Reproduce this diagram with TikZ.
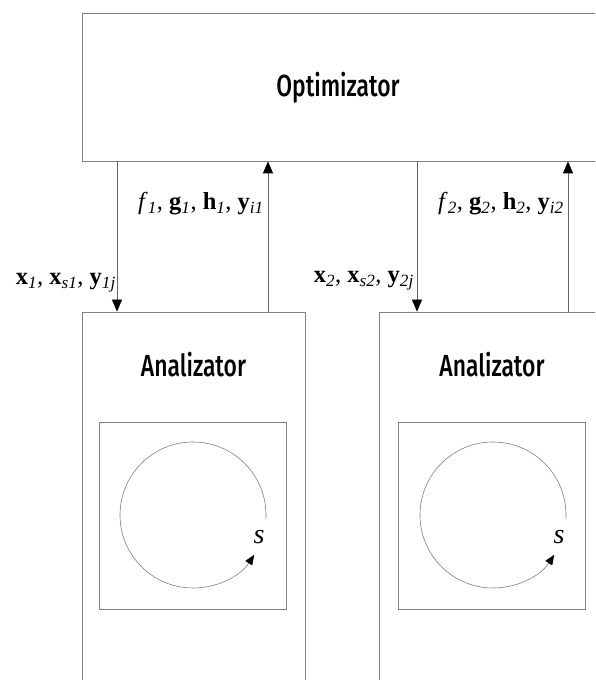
\documentclass[tikz,border=0pt]{standalone}
\usepackage{fontspec}
\setmainfont{Liberation Serif}
\newfontfamily\hd{Fira Sans}[UprightFont=* Medium]
\usetikzlibrary{arrows.meta}
\begin{document}
\begin{tikzpicture}[x=1pt,y=1pt]
\tikzset{
 boxst/.style={draw=black!50, line width=0.7pt, inner sep=0pt},
 arr/.style={draw=black!60, line width=0.7pt, -{Triangle[length=12pt,width=10pt,black]}},
 ttl/.style={font=\hd\fontsize{30.5}{36}\selectfont, inner sep=0pt},
 lbl/.style={font=\fontsize{24.5}{28}\selectfont, inner sep=0pt, anchor=base east},
 cyc/.style={draw=black!50, line width=0.6pt, -{Triangle[length=10pt,width=8pt,black]}},
 sl/.style={font=\itshape\fontsize{28}{32}\selectfont, inner sep=0pt},
}
\clip (0,0) rectangle (595,680);
\fill[white] (0,0) rectangle (595,680);
% optimizer
\node[boxst, minimum width=520pt, minimum height=148pt] (opt) at (342,593) {};
\node[ttl] (optt) at (338,592) {\scalebox{0.75}[1]{Optimizator}};
% analyzers
\node[boxst, minimum width=223pt, minimum height=408pt] (an1) at (193.5,164) {};
\node[boxst, minimum width=223pt, minimum height=408pt] (an2) at (490.5,164) {};
\node[ttl] (an1t) at (193.5,315) {\scalebox{0.75}[1]{Analizator}};
\node[ttl] (an2t) at (492,315) {\scalebox{0.75}[1]{Analizator}};
% inner squares
\node[boxst, minimum size=187pt] (in1) at (192.5,164) {};
\node[boxst, minimum size=187pt] (in2) at (491.5,164) {};
\coordinate (c1) at (193,165);
\coordinate (c2) at (493,165);
\draw[cyc] ([shift={(-3:73)}]c1) arc[start angle=-3, end angle=327, radius=73];
\draw[cyc] ([shift={(-3:73)}]c2) arc[start angle=-3, end angle=327, radius=73];
\node[sl] (s1) at (259,143) {s};
\node[sl] (s2) at (559,143) {s};
% connectors
\coordinate (d1) at (117,0);
\coordinate (u1) at (268,0);
\coordinate (d2) at (417,0);
\coordinate (u2) at (568,0);
\draw[arr] (opt.south -| d1) -- (an1.north -| d1);
\draw[arr] (an1.north -| u1) -- (opt.south -| u1);
\draw[arr] (opt.south -| d2) -- (an2.north -| d2);
\draw[arr] (an2.north -| u2) -- (opt.south -| u2);
% labels
\node[lbl] (l1) at (116,395) {\textbf{x}\textsubscript{\textit{1}}, \textbf{x}\textsubscript{\textit{s1}}, \textbf{y}\textsubscript{\textit{1j}}};
\node[lbl] (r1) at (264,470) {\textit{f}\textsubscript{\textit{1}}, \textbf{g}\textsubscript{\textit{1}}, \textbf{h}\textsubscript{\textit{1}}, \textbf{y}\textsubscript{\textit{i1}}};
\node[lbl] (l2) at (414,397) {\textbf{x}\textsubscript{\textit{2}}, \textbf{x}\textsubscript{\textit{s2}}, \textbf{y}\textsubscript{\textit{2j}}};
\node[lbl] (r2) at (564,470) {\textit{f}\textsubscript{\textit{2}}, \textbf{g}\textsubscript{\textit{2}}, \textbf{h}\textsubscript{\textit{2}}, \textbf{y}\textsubscript{\textit{i2}}};
\end{tikzpicture}
\end{document}
